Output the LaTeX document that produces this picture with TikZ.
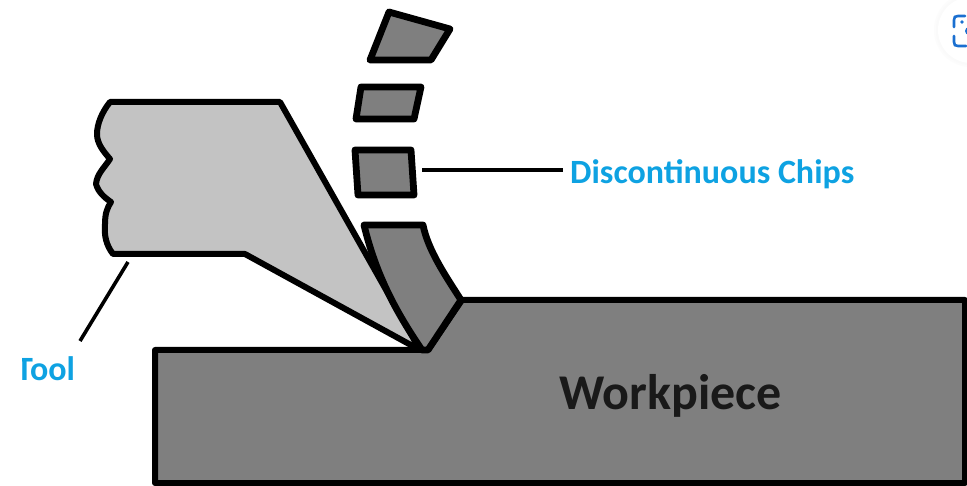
\documentclass[tikz,border=0pt]{standalone}
\usepackage{fontspec}
\setmainfont{Carlito}
\definecolor{wp}{HTML}{7F7F7F}
\definecolor{tl}{HTML}{C3C3C3}
\definecolor{lbl}{HTML}{0EA2E2}
\definecolor{lens}{HTML}{1A6FD0}
\tikzset{
  part/.style={draw=black,line width=6pt,line join=round},
  chipshape/.style={part,fill=wp,line width=6.8pt},
  leader/.style={draw=black,line width=3.6pt},
  lbltext/.style={text=lbl,inner sep=0pt,anchor=base west,font=\fontsize{34}{34}\selectfont\bfseries}
}
\begin{document}
\begin{tikzpicture}[x=1pt,y=-1pt]
\useasboundingbox (0,0) rectangle (967,486);
\fill[white] (0,0) rectangle (967,486);
% lens button
\begin{scope}
\clip (0,0) rectangle (967,486);
\fill[black!1] (971,30) circle (37);
\fill[black!2] (971,30) circle (35);
\fill[white] (971,30) circle (33);
\draw[lens,line width=2.6pt,line cap=round] (965,16) -- (958,16) .. controls (955,16) and (954,17) .. (954,20) -- (954,27);
\draw[lens,line width=2.6pt,line cap=round] (954,36) -- (954,42) .. controls (954,45) and (955,46) .. (958,46) -- (966,46);
\fill[lens] (962,22) circle (1.8);
\fill[lens] (969,31) circle (4);
\end{scope}
% workpiece
\path[part,fill=wp] (155,350) -- (428,350) -- (462,300) -- (965,300) -- (965,483) -- (155,483) -- cycle;
% tool
\path[part,fill=tl] (110,102) -- (280,102) -- (420,350)
  -- (245,254) -- (113,254)
  .. controls (106,245) and (104,235) .. (105,224)
  .. controls (105,214) and (107,208) .. (111,202)
  .. controls (105,198) and (98,192) .. (96,184)
  .. controls (97,174) and (104,168) .. (110,159)
  .. controls (104,152) and (97,144) .. (97,134)
  .. controls (97,124) and (102,112) .. cycle;
% chip at the tool
\path[chipshape] (364,225) -- (423,225)
  .. controls (428,250) and (445,275) .. (461,300) -- (428,350) -- (422,350)
  .. controls (396,312) and (376,275) .. cycle;
% loose chips
\path[chipshape] (389,12) -- (450,29) -- (431,60) -- (370,60) -- cycle;
\path[chipshape] (361,87) -- (421,87) -- (414,119) -- (356,119) -- cycle;
\path[chipshape] (355,150) -- (411,150) -- (414,195) -- (358,195) -- cycle;
% labels
\node[lbltext] (dc) at (570,183.5) {Discontinuous Chips};
\coordinate (dcl) at (422,170);
\coordinate (dcr) at (563,170);
\draw[leader] (dcl) -- (dcr);
\begin{scope}
\clip (22,340) rectangle (100,400);
\node[lbltext] (tooltext) at (16,381) {Tool};
\end{scope}
\coordinate (tla) at (128,262);
\coordinate (tlb) at (80,341);
\draw[leader] (tla) -- (tlb);
\node[inner sep=0pt,anchor=base west,font=\fontsize{50}{50}\selectfont\bfseries,text=black!90] (wk) at (559,409.5) {Workpiece};
\end{tikzpicture}
\end{document}
